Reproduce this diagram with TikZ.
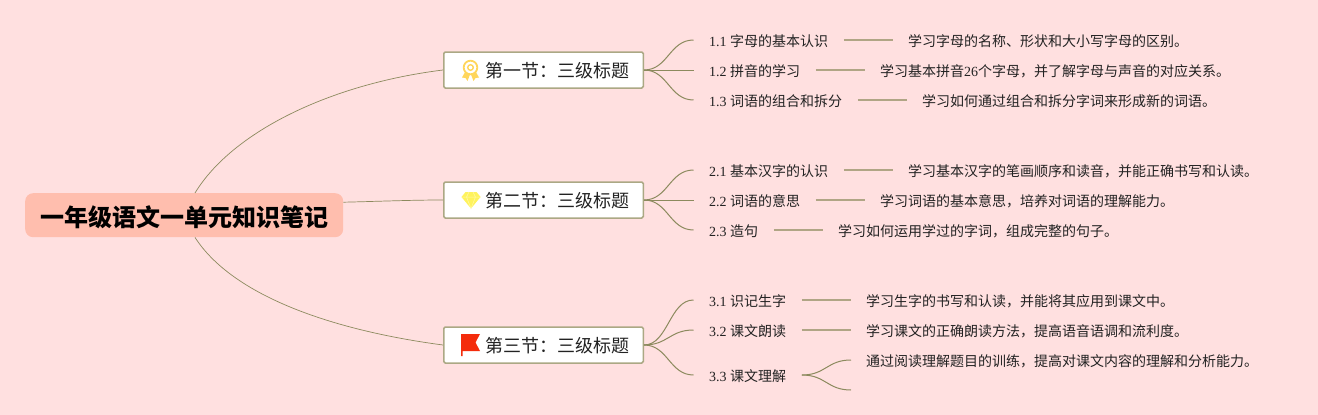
\documentclass[tikz,border=0pt]{standalone}
\usepackage{fontspec}
\usetikzlibrary{calc}
\setmainfont{Liberation Serif}
\newfontfamily\cjk{Noto Sans CJK SC}
\definecolor{bgc}{HTML}{FFE0E0}
\definecolor{rootc}{HTML}{FFBEAE}
\definecolor{linec}{HTML}{8C8A5E}
\definecolor{boxc}{HTML}{ABA884}
\definecolor{leafline}{HTML}{B0A585}
\definecolor{medalc}{HTML}{FFD65C}
\definecolor{gemc}{HTML}{FFF35C}
\definecolor{gemline}{HTML}{FFF9A8}
\definecolor{flagc}{HTML}{F42C0C}
\definecolor{txtc}{HTML}{222222}
\tikzset{
  x=1pt,y=-1pt,
  rootbox/.style={fill=rootc,rounded corners=8pt,minimum width=318pt,minimum height=44pt,inner sep=0pt,text height=26pt,text depth=3.2pt,font=\cjk\bfseries\fontsize{24}{24}\selectfont,text=black},
  secbox/.style={draw=boxc,line width=1.5pt,fill=white,rounded corners=1.5pt,minimum height=36pt,inner sep=0pt,text height=18pt,text depth=2.4pt,font=\cjk\fontsize{18}{18}\selectfont,text=txtc},
  leafbox/.style={inner xsep=15.5pt,inner ysep=0pt,text height=14pt,text depth=2pt,font=\fontsize{14}{14}\selectfont,text=txtc},
  detailbox/.style={inner xsep=15pt,inner ysep=0pt,text height=14pt,text depth=2pt,font=\fontsize{14}{14}\selectfont,text=txtc},
  mainlink/.style={draw=linec,line width=0.7pt},
  sublink/.style={draw=linec,line width=1pt},
  leaflink/.style={draw=leafline,line width=1.4pt},
}
\newcommand{\seclabel}[1]{\hspace*{41.5pt}#1\hspace*{14pt}}
\newcommand{\leaflabel}[2]{#1 {\cjk #2}}
\begin{document}
\begin{tikzpicture}
\path[use as bounding box,fill=bgc] (0,0) rectangle (1318,415);

% root and sections
\node[rootbox,anchor=north west] (root) at (25,193) {一年级语文一单元知识笔记};
\node[secbox,anchor=west] (s1) at (443,70) {\seclabel{第一节：三级标题}};
\node[secbox,anchor=west] (s2) at (443,200) {\seclabel{第二节：三级标题}};
\node[secbox,anchor=west] (s3) at (443,345) {\seclabel{第三节：三级标题}};

% leaves
\node[leafbox,anchor=west] (l11) at (693.5,40) {\leaflabel{1.1}{字母的基本认识}};
\node[leafbox,anchor=west] (l12) at (693.5,70) {\leaflabel{1.2}{拼音的学习}};
\node[leafbox,anchor=west] (l13) at (693.5,100) {\leaflabel{1.3}{词语的组合和拆分}};
\node[leafbox,anchor=west] (l21) at (693.5,170) {\leaflabel{2.1}{基本汉字的认识}};
\node[leafbox,anchor=west] (l22) at (693.5,200) {\leaflabel{2.2}{词语的意思}};
\node[leafbox,anchor=west] (l23) at (693.5,230) {\leaflabel{2.3}{造句}};
\node[leafbox,anchor=west] (l31) at (693.5,300) {\leaflabel{3.1}{识记生字}};
\node[leafbox,anchor=west] (l32) at (693.5,330) {\leaflabel{3.2}{课文朗读}};
\node[leafbox,anchor=west] (l33) at (693.5,375) {\leaflabel{3.3}{课文理解}};

% details
\node[detailbox,anchor=west] (d11) at (893,40) {\cjk 学习字母的名称、形状和大小写字母的区别。};
\node[detailbox,anchor=west] (d12) at (865,70) {{\cjk 学习基本拼音}26{\cjk 个字母，并了解字母与声音的对应关系。}};
\node[detailbox,anchor=west] (d13) at (907,100) {\cjk 学习如何通过组合和拆分字词来形成新的词语。};
\node[detailbox,anchor=west] (d21) at (893,170) {\cjk 学习基本汉字的笔画顺序和读音，并能正确书写和认读。};
\node[detailbox,anchor=west] (d22) at (865,200) {\cjk 学习词语的基本意思，培养对词语的理解能力。};
\node[detailbox,anchor=west] (d23) at (823,230) {\cjk 学习如何运用学过的字词，组成完整的句子。};
\node[detailbox,anchor=west] (d31) at (851,300) {\cjk 学习生字的书写和认读，并能将其应用到课文中。};
\node[detailbox,anchor=west] (d32) at (851,330) {\cjk 学习课文的正确朗读方法，提高语音语调和流利度。};
\node[detailbox,anchor=west] (d33) at (851,360) {\cjk 通过阅读理解题目的训练，提高对课文内容的理解和分析能力。};
\coordinate (d34) at (851,390);

% root links
\draw[mainlink] ($(root.north west)+(170,0)$) .. controls (232,132) and (330,84) .. (s1.west);
\draw[mainlink] ($(root.east)+(0,-13)$) .. controls (375,201.5) and (410,200) .. (s2.west);
\draw[mainlink] ($(root.south west)+(170,0)$) .. controls (232,295) and (330,330) .. (s3.west);

% section links
\foreach \s/\l in {s1/l11,s1/l12,s1/l13,s2/l21,s2/l22,s2/l23,s3/l31,s3/l32,s3/l33}{
  \draw[sublink] (\s.east) .. controls ($(\s.east)+(24,0)$) and ($(\l.west)+(-24,0)$) .. (\l.west);
}
% leaf links
\foreach \l/\d in {l11/d11,l12/d12,l13/d13,l21/d21,l22/d22,l23/d23,l31/d31,l32/d32}{
  \draw[leaflink] (\l.east) -- (\d.west);
}
\draw[sublink] (l33.east) .. controls ($(l33.east)+(24,0)$) and ($(d33.west)+(-24,0)$) .. (d33.west);
\draw[sublink] (l33.east) .. controls ($(l33.east)+(24,0)$) and ($(d34)+(-24,0)$) .. (d34);

% medal icon
\begin{scope}[shift={(470.5,67.5)}]
  \fill[medalc] (-4.5,3) -- (-8.5,10) -- (-5,10.5) -- (-3,13.5) -- (-0.5,7) -- cycle;
  \fill[medalc] (4.5,3) -- (8.5,10) -- (5,10.5) -- (3,13.5) -- (0.5,7) -- cycle;
  \draw[medalc,line width=1.8pt,fill=white] (0,0) circle (6.8);
  \draw[medalc,line width=1.4pt] (0,0) circle (2.8);
\end{scope}

% gem icon
\begin{scope}[shift={(471,200)}]
  \fill[gemc] (-5.5,-8) -- (5.5,-8) -- (9.5,-3) -- (0,8.5) -- (-9.5,-3) -- cycle;
  \draw[gemline,line width=0.5pt] (-9.5,-3) -- (9.5,-3) (-4.5,-3) -- (0,8.5) -- (4.5,-3) (-4.5,-3) -- (-2,-8) (4.5,-3) -- (2,-8);
\end{scope}

% flag icon
\fill[flagc] (461,334) -- (480,334) -- (475.5,342.5) -- (480,351) -- (462.5,351) -- (462.5,356) -- (461,356) -- cycle;
\end{tikzpicture}
\end{document}
